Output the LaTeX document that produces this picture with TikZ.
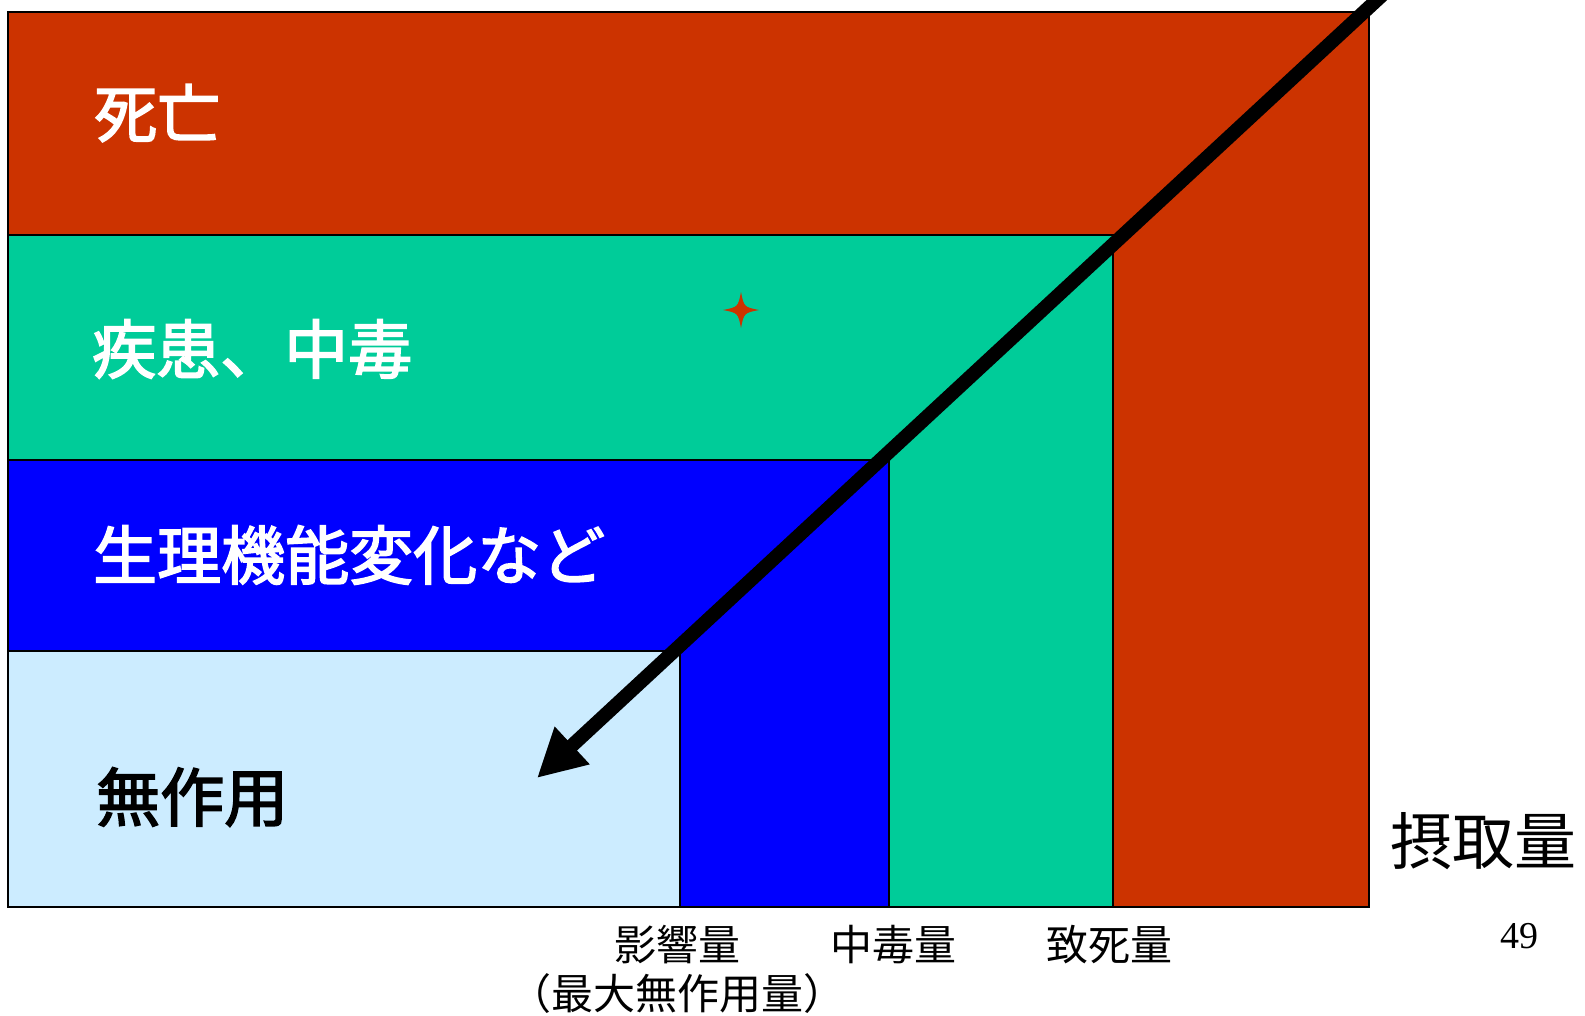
\documentclass[tikz,border=0pt]{standalone}
\usepackage{fontspec}
\setmainfont{Liberation Serif}
\newfontfamily\cjk{Noto Sans CJK JP}
\newfontfamily\cjkb[FakeBold=2.5]{Noto Sans CJK JP}
\usetikzlibrary{arrows.meta}
\definecolor{deathred}{HTML}{CC3300}
\definecolor{sickgreen}{HTML}{00CC99}
\definecolor{physblue}{HTML}{0000FF}
\definecolor{noeffect}{HTML}{CCECFF}
\begin{document}
\begin{tikzpicture}[x=1pt,y=-1pt,
  zone/.style={draw=black,line width=1.5pt},
  boxlabel/.style={anchor=west,inner sep=0pt,font=\cjkb\fontsize{64}{64}\selectfont},
  doselabel/.style={inner sep=0pt,font=\cjk\fontsize{42}{42}\selectfont},
  trend/.style={line width=14pt,-{Triangle[length=48pt,width=48pt]}}]
\useasboundingbox (0,0) rectangle (1585,1015);
\clip (0,0) rectangle (1585,1015);
% zones
\path[zone,fill=deathred] (8,12) rectangle (1369,907);
\path[zone,fill=sickgreen] (8,235) rectangle (1113,907);
\path[zone,fill=physblue] (8,460) rectangle (889,907);
\path[zone,fill=noeffect] (8,651) rectangle (680,907);
% star
\fill[deathred] (741,292) .. controls (744,307) .. (759,310)
  .. controls (744,313) .. (741,328)
  .. controls (738,313) .. (723,310)
  .. controls (738,307) .. (741,292) -- cycle;
% labels in zones
\node[boxlabel,text=white,font=\cjkb\fontsize{63}{63}\selectfont] (death) at (94,113) {死亡};
\node[boxlabel,text=white] (disease) at (92,349) {疾患、中毒};
\node[boxlabel,text=white] (physio) at (93,555) {生理機能変化など};
\node[boxlabel,text=black] (none) at (96,797) {無作用};
% arrow
\coordinate (arrowstart) at (1392,-14);
\coordinate (arrowtip) at (537,778);
\draw[trend] (arrowstart) -- (arrowtip);
% axis labels
\node[inner sep=0pt,anchor=west,font=\cjk\fontsize{62}{62}\selectfont] (intake) at (1390,841) {摂取量};
\node[doselabel] (effect) at (677,945) {影響量};
\node[doselabel] (poison) at (893,945) {中毒量};
\node[doselabel] (lethal) at (1109,945) {致死量};
\node[doselabel] (noael) at (677,994) {（最大無作用量）};
\node[inner sep=0pt,font=\fontsize{38}{38}\selectfont] (page) at (1519,936) {49};
\end{tikzpicture}
\end{document}
